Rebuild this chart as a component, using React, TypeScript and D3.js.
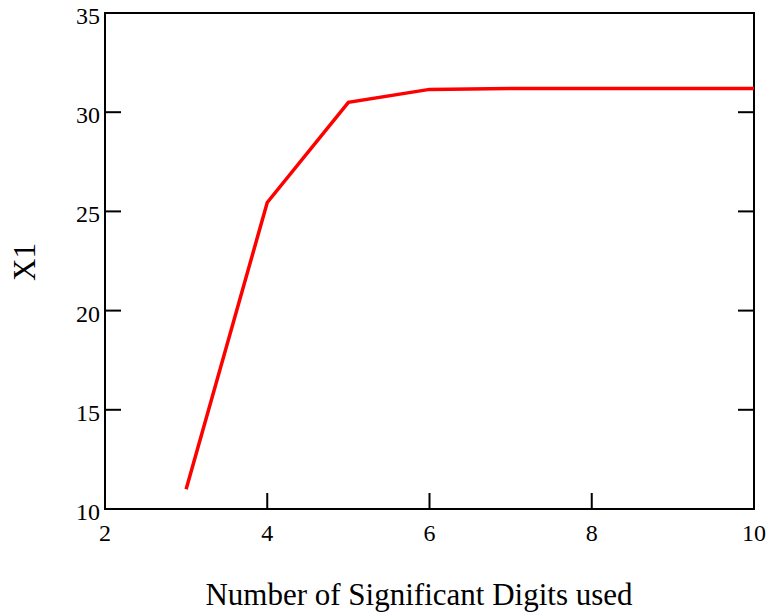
import React, { useRef, useEffect } from "react";
import * as d3 from "d3";

const digits = [3, 4, 5, 6, 7, 8, 9, 10];
const x1Values = [11.0, 25.45, 30.5, 31.15, 31.2, 31.2, 31.2, 31.2];
const xTicks = [2, 4, 6, 8, 10];
const yTicks = [10, 15, 20, 25, 30, 35];

const W = 771;
const H = 615;

const App = () => {
  const svgRef = useRef<SVGSVGElement>(null);

  useEffect(() => {
    const svg = d3.select(svgRef.current);
    svg.selectAll("*").remove();

    const margin = { left: 105, right: 17, top: 13, bottom: 106 };
    const x = d3.scaleLinear().domain([2, 10]).range([margin.left, W - margin.right]);
    const y = d3.scaleLinear().domain([10, 35]).range([H - margin.bottom, margin.top]);
    const font = "Liberation Serif, DejaVu Serif, serif";
    const tickLen = 16;

    // frame
    svg
      .append("rect")
      .attr("x", x(2))
      .attr("y", y(35))
      .attr("width", x(10) - x(2))
      .attr("height", y(10) - y(35))
      .attr("fill", "none")
      .attr("stroke", "#000")
      .attr("stroke-width", 2);

    // inward ticks: left + right for y, bottom for x
    const ticks = svg.append("g").attr("stroke", "#000").attr("stroke-width", 2);
    yTicks.forEach((t) => {
      ticks.append("line").attr("x1", x(2)).attr("x2", x(2) + tickLen).attr("y1", y(t)).attr("y2", y(t));
      ticks.append("line").attr("x1", x(10)).attr("x2", x(10) - tickLen).attr("y1", y(t)).attr("y2", y(t));
    });
    xTicks.forEach((t) => {
      ticks.append("line").attr("x1", x(t)).attr("x2", x(t)).attr("y1", y(10)).attr("y2", y(10) - tickLen);
    });

    // tick labels
    svg
      .append("g")
      .selectAll("text")
      .data(yTicks)
      .enter()
      .append("text")
      .attr("x", x(2) - 5)
      .attr("y", (d) => y(d) + 11)
      .attr("text-anchor", "end")
      .style("font-family", font)
      .style("font-size", "24px")
      .text((d) => d);

    svg
      .append("g")
      .selectAll("text")
      .data(xTicks)
      .enter()
      .append("text")
      .attr("x", (d) => x(d))
      .attr("y", y(10) + 32)
      .attr("text-anchor", "middle")
      .style("font-family", font)
      .style("font-size", "24px")
      .text((d) => d);

    // axis titles
    svg
      .append("text")
      .attr("transform", `translate(35, 262) rotate(-90)`)
      .attr("text-anchor", "middle")
      .style("font-family", font)
      .style("font-size", "31px")
      .text("X1");

    svg
      .append("text")
      .attr("x", 419)
      .attr("y", 605)
      .attr("text-anchor", "middle")
      .style("font-family", font)
      .style("font-size", "31px")
      .text("Number of Significant Digits used");

    // line
    const lineGen = d3
      .line<number>()
      .x((_, i) => x(digits[i]))
      .y((d) => y(d));

    svg
      .append("path")
      .datum(x1Values)
      .attr("fill", "none")
      .attr("stroke", "#ff0000")
      .attr("stroke-width", 3.5)
      .attr("d", lineGen);
  }, []);

  return (
    <svg
      ref={svgRef}
      width={W}
      height={H}
      style={{ position: "absolute", left: 0, top: 0, background: "#fff" }}
    />
  );
};

export default App;
